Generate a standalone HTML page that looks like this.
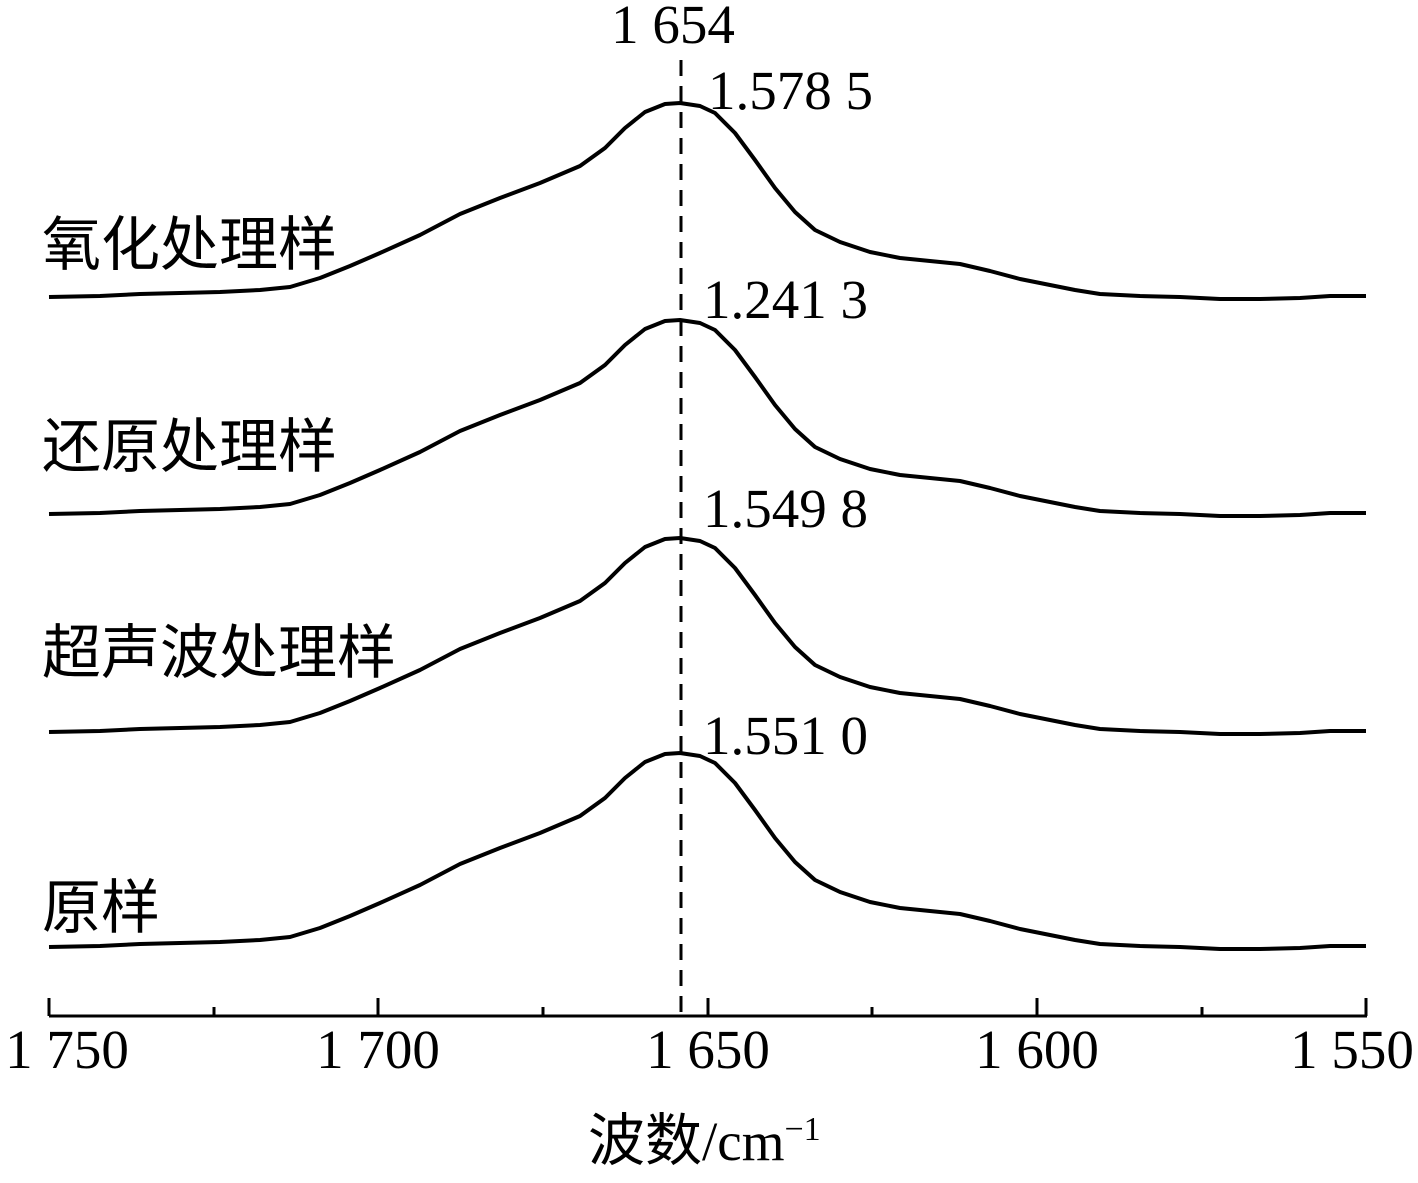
<!DOCTYPE html>
<html><head><meta charset="utf-8"><style>
html,body{margin:0;padding:0;background:#fff;}
svg{display:block;}
.n{font-family:"Liberation Serif",serif;font-size:55px;fill:#000;}
.c{font-family:"Liberation Sans","Noto Sans CJK SC",sans-serif;font-size:59px;fill:#000;}
</style></head><body>
<svg width="1418" height="1183" viewBox="0 0 1418 1183" xmlns="http://www.w3.org/2000/svg">
<defs>
<path id="cv" d="M49,297 L100,296 L140,294 L180,293 L220,292 L260,290 L290,287 L320,278 L350,266 L380,253 L420,235 L460,214 L500,198 L540,183 L580,166 L605,148 L625,128 L645,112 L665,104 L680,103 L700,106 L715,113 L735,133 L755,160 L775,188 L795,212 L815,230 L840,242 L870,252 L900,258 L930,261 L960,264 L990,271 L1020,279 L1050,285 L1075,290 L1100,294 L1140,296 L1180,297 L1220,299 L1260,299 L1300,298 L1330,296 L1366,296" fill="none" stroke="#000" stroke-width="4" stroke-linejoin="round"/>
</defs>
<use href="#cv"/>
<use href="#cv" transform="translate(0,217)"/>
<use href="#cv" transform="translate(0,435)"/>
<use href="#cv" transform="translate(0,650)"/>
<line x1="681" y1="60" x2="681" y2="1016" stroke="#000" stroke-width="3" stroke-dasharray="16,10"/>
<line x1="49" y1="1016" x2="1367" y2="1016" stroke="#000" stroke-width="3"/>
<g stroke="#000" stroke-width="3">
<line x1="49" y1="998" x2="49" y2="1016"/><line x1="378" y1="998" x2="378" y2="1016"/><line x1="708" y1="998" x2="708" y2="1016"/><line x1="1037" y1="998" x2="1037" y2="1016"/><line x1="1366" y1="998" x2="1366" y2="1016"/>
<line x1="214" y1="1007" x2="214" y2="1016"/><line x1="543" y1="1007" x2="543" y2="1016"/><line x1="872" y1="1007" x2="872" y2="1016"/><line x1="1202" y1="1007" x2="1202" y2="1016"/>
</g>
<g class="n" text-anchor="middle">
<text x="67" y="1068">1 750</text><text x="378" y="1068">1 700</text><text x="708" y="1068">1 650</text><text x="1037" y="1068">1 600</text><text x="1352" y="1068">1 550</text>
<text x="673" y="43">1 654</text>
</g>
<g class="n">
<text x="708" y="109">1.578 5</text>
<text x="703" y="318">1.241 3</text>
<text x="703" y="527">1.549 8</text>
<text x="703" y="754">1.551 0</text>
</g>
<g class="c">
<text x="42" y="265">氧化处理样</text>
<text x="42" y="467">还原处理样</text>
<text x="42" y="673">超声波处理样</text>
<text x="42" y="928">原样</text>
<text x="588" y="1160" style="font-size:57px">波数<tspan style="font-family:'Liberation Serif',serif;font-size:55px">/cm</tspan><tspan style="font-family:'Liberation Serif',serif;font-size:34px" dy="-20">−1</tspan></text>
</g>
</svg>
</body></html>
